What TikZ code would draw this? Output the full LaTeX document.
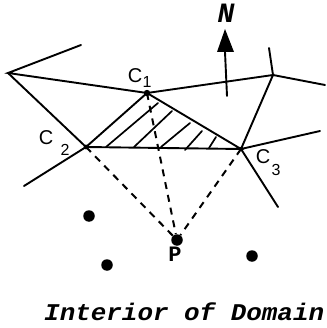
\documentclass[tikz,border=0pt]{standalone}
\usepackage{fontspec}
\setmainfont{Liberation Sans}
\newfontfamily\monofam{Liberation Mono}
\usetikzlibrary{arrows.meta}
\tikzset{
  edge/.style={line width=1.9pt,line cap=round},
  hatch/.style={line width=1.7pt,line cap=round},
  dashline/.style={line width=2pt,dash pattern=on 7pt off 6pt},
  blob/.style={circle,fill=black,inner sep=0pt,minimum size=11.5pt},
  lab/.style={inner sep=0pt,font=\fontsize{20}{20}\selectfont},
  sublab/.style={inner sep=0pt,font=\fontsize{16}{16}\selectfont},
}
\begin{document}
\begin{tikzpicture}[x=1pt,y=-1pt]
\useasboundingbox (0,0) rectangle (326,328);
\coordinate (A) at (8,73);
\coordinate (Aend) at (81,45);
\coordinate (C1) at (147,93);
\coordinate (C2) at (86,147);
\coordinate (C3) at (241,149);
\coordinate (R) at (273,75);
\coordinate (Rup) at (269,48);
\coordinate (Rright) at (325,85);
\coordinate (C3right) at (320,131);
\coordinate (C3low) at (278,207);
\coordinate (C2low) at (24,186);
\coordinate (Nbase) at (227,96);
\coordinate (Ntip) at (225,52);
\node[blob] (P) at (177,240) {};
\node[blob] (D1) at (89,216) {};
\node[blob] (D2) at (107,265) {};
\node[blob] (D3) at (252,256) {};
\fill (C1) circle (3.2pt);
\fill (C2) circle (2.4pt);
\fill (C3) circle (2.2pt);
\draw[edge] (Aend) -- (A) -- (C1) -- (R) -- (C3) -- (C3right);
\draw[edge] (A) -- (C2) -- (C1) -- (C3) -- (C2);
\draw[edge] (R) -- (Rup);
\draw[edge] (R) -- (Rright);
\draw[edge] (C2) -- (C2low);
\draw[edge] (C3) -- (C3low);
\draw[edge] (Nbase) -- (Ntip);
\fill (225,29) -- (234,52) -- (217,52) -- cycle;
\draw[hatch] (106,147) -- (158,103);
\draw[hatch] (134,147) -- (172,111);
\draw[hatch] (161,147) -- (190,123);
\draw[hatch] (185,150) -- (202,131);
\draw[hatch] (209,148) -- (216,137);
\draw[dashline] (C2) -- (P);
\draw[dashline] (C1) -- (P);
\draw[dashline] (C3) -- (P);
\node[lab] (c1) at (135,76) {C};
\node[sublab] (s1) at (147,82) {1};
\node[lab] (c2) at (46,138) {C};
\node[sublab] (s2) at (65,150) {2};
\node[lab] (c3) at (263,157) {C};
\node[sublab] (s3) at (276,170) {3};
\node[inner sep=0pt,font=\monofam\bfseries\itshape\fontsize{28}{28}\selectfont] (N) at (226,13) {N};
\node[inner sep=0pt,font=\monofam\bfseries\fontsize{22}{22}\selectfont] (Plab) at (175,254) {P};
\node[inner sep=0pt,anchor=base west,xscale=1.08,font=\monofam\bfseries\itshape\fontsize{24}{24}\selectfont] (T) at (44,320) {Interior of Domain};
\end{tikzpicture}
\end{document}
